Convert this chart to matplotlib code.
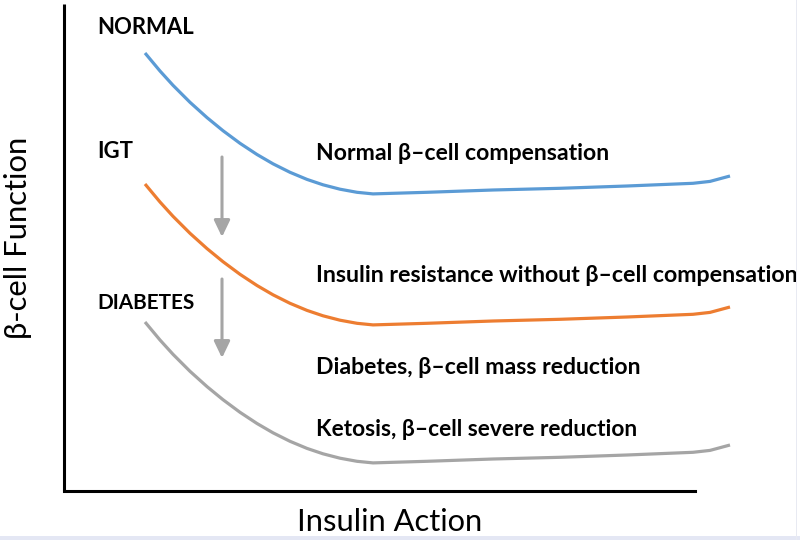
import matplotlib
matplotlib.use("Agg")
import matplotlib.pyplot as plt
from matplotlib.patches import Rectangle

# ---- data (arbitrary units: insulin action vs beta-cell function) ----
insulin_action = [81, 96, 109, 126, 143, 159, 176, 193, 209, 226, 243, 259, 276, 293, 309,
                  363, 429, 496, 563, 629, 646, 666]
normal_curve   = [438, 420, 405.7, 388.7, 373.4, 360.3, 347.7, 336.5, 327.2, 318.7, 311.6, 306.2, 301.8, 298.7, 297.1,
                  298.7, 301, 302.7, 305, 307.7, 309.6, 315]
igt_curve      = [307, 289, 274.7, 257.7, 242.4, 229.3, 216.7, 205.5, 196.2, 187.7, 180.6, 175.2, 170.8, 167.7, 166.1,
                  167.7, 170, 171.7, 174, 176.7, 178.6, 184]
diabetes_curve = [169, 151, 136.7, 119.7, 104.4, 91.3, 78.7, 67.5, 58.2, 49.7, 42.6, 37.2, 32.8, 29.7, 28.1,
                  29.7, 32, 33.7, 36, 38.7, 40.6, 46]

stage_labels = ["NORMAL", "IGT", "DIABETES"]
stage_y = [463, 340, 188]
desc_labels = ["Normal \u03b2\u2013cell compensation",
               "Insulin resistance without \u03b2\u2013cell compensation",
               "Diabetes, \u03b2\u2013cell mass reduction",
               "Ketosis, \u03b2\u2013cell severe reduction"]
desc_y = [338, 216, 124, 61]
arrow_x = 158
arrows = [(334, 254), (212, 133)]

colors = ["#5B9BD5", "#ED7D31", "#A5A5A5"]
FONT = ["Lato", "DejaVu Sans"]

W, H = 800, 540
fig = plt.figure(figsize=(W / 100, H / 100), dpi=100)
# axes: left spine at x=64 px, top y=4 px, bottom spine at y=491 px
ax = fig.add_axes([64 / W, (H - 491) / H, (W - 64) / W, (491 - 4) / H])
ax.set_xlim(0, W - 64)
ax.set_ylim(0, 491 - 4)
ax.set_xticks([])
ax.set_yticks([])
for s in ["top", "right"]:
    ax.spines[s].set_visible(False)
ax.spines["left"].set_linewidth(2.2)
ax.spines["bottom"].set_linewidth(2.2)
ax.spines["bottom"].set_bounds(0, 695 - 64)
ax.spines["left"].set_capstyle("butt")

for ys, c in zip([normal_curve, igt_curve, diabetes_curve], colors):
    ax.plot(insulin_action, ys, color=c, lw=2.3, solid_capstyle="butt", solid_joinstyle="round")

for (y0, y1) in arrows:
    ax.annotate("", xy=(arrow_x, y1), xytext=(arrow_x, y0),
                arrowprops=dict(arrowstyle="-|>,head_length=0.5,head_width=0.24",
                                mutation_scale=20, color="#A5A5A5", lw=2.2,
                                shrinkA=0, shrinkB=0))

fig.canvas.draw()
renderer = fig.canvas.get_renderer()


def fit_text(t, target_px, horizontal=True):
    bb = t.get_window_extent(renderer)
    cur = bb.width if horizontal else bb.height
    t.set_fontsize(t.get_fontsize() * target_px / cur)


stage_w = [97, 36, 98]
for lab, y, w in zip(stage_labels, stage_y, stage_w):
    t = ax.text(97 - 64, y, lab, fontsize=12, fontweight="bold", family=FONT,
                ha="left", va="center", color="black")
    fit_text(t, w)

desc_w = [292, 479, 323, 320]
for lab, y, w in zip(desc_labels, desc_y, desc_w):
    t = ax.text(316 - 64, y, lab, fontsize=12, fontweight="bold", family=FONT,
                ha="left", va="center", color="black")
    fit_text(t, w)

xl = fig.text(390 / W, 1 - 522 / H, "Insulin Action", fontsize=16, family=FONT,
              ha="center", va="center", color="black")
fit_text(xl, 186)
yl = fig.text(18 / W, 1 - 238 / H, "\u03b2-cell Function", fontsize=16, family=FONT,
              rotation=90, ha="center", va="center", color="black")
fit_text(yl, 203, horizontal=False)

# light frame at bottom / right edge
fig.patches.append(Rectangle((0, 0), 1, 4 / H, transform=fig.transFigure,
                             facecolor="#E4E7F4", edgecolor="none"))
fig.patches.append(Rectangle((796 / W, 0), 1 / W, 1, transform=fig.transFigure,
                             facecolor="#E8EAF2", edgecolor="none"))

fig.savefig("out.png", dpi=100)
